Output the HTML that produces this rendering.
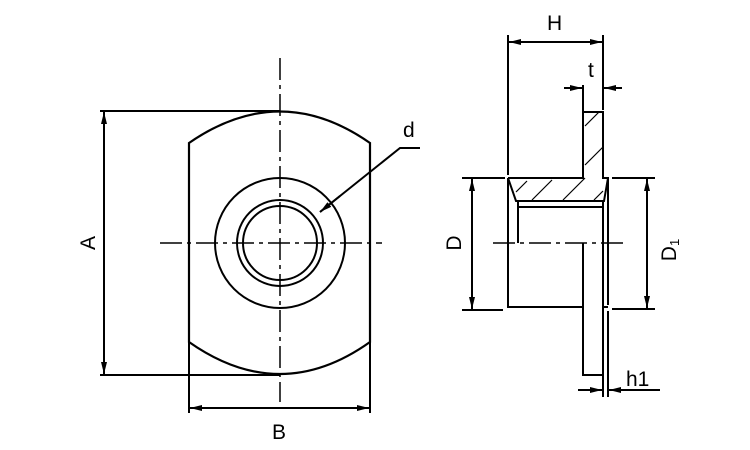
<!DOCTYPE html>
<html><head><meta charset="utf-8"><style>body{margin:0;background:#fff}svg{display:block}text{font-family:"Liberation Sans",sans-serif;font-size:21px;fill:#000}</style></head><body>
<svg width="750" height="450" viewBox="0 0 750 450" xmlns="http://www.w3.org/2000/svg">
<defs>
<marker id="a" viewBox="0 0 12 6" refX="12" refY="3" markerWidth="12" markerHeight="6" markerUnits="userSpaceOnUse" orient="auto"><path d="M0,0 L12,3 L0,6z" fill="#000"/></marker>
</defs>
<g fill="none" stroke="#000" stroke-width="2">
<path d="M189,143 Q280,80 370,143 L370,342 Q280,406 189,342 Z" stroke-width="2.2"/>
<line x1="189" y1="342" x2="189" y2="413"/><line x1="370" y1="342" x2="370" y2="413"/>
<circle cx="280" cy="243" r="65"/><circle cx="280" cy="243" r="43"/><circle cx="280" cy="243" r="37"/>
<line x1="280" y1="58" x2="280" y2="402" stroke-dasharray="22,5,4,5" stroke-width="1.5"/>
<line x1="160" y1="243" x2="382" y2="243" stroke-dasharray="22,5,4,5" stroke-width="1.5"/>
<line x1="100" y1="111" x2="280" y2="111"/><line x1="100" y1="375" x2="280" y2="375"/>
<line x1="104" y1="243" x2="104" y2="112" marker-end="url(#a)"/><line x1="104" y1="243" x2="104" y2="374" marker-end="url(#a)"/>
<line x1="280" y1="408" x2="190" y2="408" marker-end="url(#a)"/><line x1="280" y1="408" x2="369" y2="408" marker-end="url(#a)"/>
<polyline points="420,148 400,148 320,212"/>
<line x1="340" y1="196" x2="320" y2="212" marker-end="url(#a)"/>
<path d="M508,178 L583,178 L583,112 L603,112 L603,178 L608,178 L608,305"/>
<path d="M508,178 L508,307 L583,307 L583,375 L603,375 L603,201"/>
<line x1="603" y1="307" x2="608" y2="307"/>
<path d="M508,178 L516,201 L604,201 L608,178"/>
<line x1="518" y1="207" x2="603" y2="207"/><line x1="518" y1="201" x2="518" y2="243"/>
<line x1="583" y1="243" x2="583" y2="307"/>
<g stroke-width="1.2">
<line x1="516" y1="192" x2="527" y2="181"/><line x1="532" y1="200" x2="552" y2="180"/><line x1="563" y1="200" x2="585" y2="178"/><line x1="594" y1="200" x2="603" y2="191"/>
<line x1="585" y1="165" x2="603" y2="147"/><line x1="585" y1="126" x2="599" y2="112"/>
</g>
<line x1="493" y1="243" x2="625" y2="243" stroke-dasharray="22,5,4,5" stroke-width="1.5"/>
<line x1="508" y1="35" x2="508" y2="175"/><line x1="603" y1="35" x2="603" y2="110"/><line x1="583" y1="85" x2="583" y2="112"/>
<line x1="556" y1="42" x2="509" y2="42" marker-end="url(#a)"/><line x1="556" y1="42" x2="602" y2="42" marker-end="url(#a)"/>
<line x1="564" y1="88" x2="582" y2="88" marker-end="url(#a)"/><line x1="622" y1="88" x2="604" y2="88" marker-end="url(#a)"/>
<line x1="462" y1="178" x2="505" y2="178"/><line x1="462" y1="310" x2="503" y2="310"/>
<line x1="472" y1="243" x2="472" y2="179" marker-end="url(#a)"/><line x1="472" y1="243" x2="472" y2="309" marker-end="url(#a)"/>
<line x1="612" y1="178" x2="655" y2="178"/><line x1="612" y1="309" x2="655" y2="309"/>
<line x1="647" y1="243" x2="647" y2="179" marker-end="url(#a)"/><line x1="647" y1="243" x2="647" y2="308" marker-end="url(#a)"/>
<line x1="603" y1="375" x2="603" y2="397"/><line x1="608" y1="311" x2="608" y2="397"/>
<line x1="578" y1="390" x2="602" y2="390" marker-end="url(#a)"/><line x1="660" y1="390" x2="609" y2="390" marker-end="url(#a)"/>
</g>
<text x="403" y="137">d</text>
<text x="272" y="439">B</text>
<text transform="translate(95,243) rotate(-90)" text-anchor="middle">A</text>
<text x="547" y="30">H</text>
<text x="588" y="77">t</text>
<text transform="translate(461,243) rotate(-90)" text-anchor="middle">D</text>
<text transform="translate(676,250) rotate(-90)" text-anchor="middle">D<tspan font-size="13" dy="3">1</tspan></text>
<text x="626" y="386">h1</text>
</svg>
</body></html>
